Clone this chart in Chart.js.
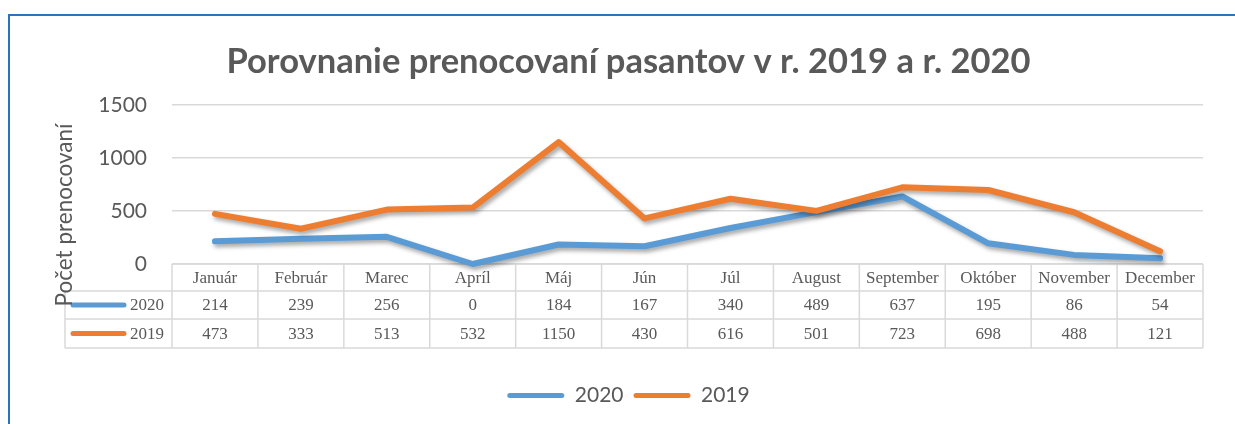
<!DOCTYPE html>
<html><head><meta charset="utf-8">
<script src="https://cdn.jsdelivr.net/npm/chart.js@4.4.0/dist/chart.umd.min.js"></script>
<style>
html,body{margin:0;padding:0;background:#fff;}
#wrap{position:relative;width:1235px;height:424px;overflow:hidden;}
#frame{position:absolute;left:8px;top:14px;right:-10px;bottom:-10px;border-left:2px solid #2a74bf;border-top:2px solid #2a74bf;}
canvas{position:absolute;left:0;top:0;}
</style></head><body>
<div id="wrap"><div id="frame"></div><canvas id="c" width="1235" height="424"></canvas></div>
<script>
const months = ['Január','Február','Marec','Apríl','Máj','Jún','Júl','August','September','Október','November','December'];
const values2020 = [214,239,256,0,184,167,340,489,637,195,86,54];
const values2019 = [473,333,513,532,1150,430,616,501,723,698,488,121];
const seriesNames = ['2020','2019'];
const seriesColors = ['#5B9BD5','#ED7D31'];
const yTickValues = [0,500,1000,1500];
const chartTitle = 'Porovnanie prenocovaní pasantov v r. 2019 a r. 2020';
const yTitle = 'Počet prenocovaní';

const TEXT = '#595959';
const GRID = '#d9d9d9';
Chart.defaults.font.family = 'Lato';
Chart.defaults.color = TEXT;

const shadowPlugin = {
  id:'shadow',
  beforeDatasetDraw(chart){
    const ctx = chart.ctx; ctx.save();
    ctx.shadowColor='rgba(0,0,0,0.35)'; ctx.shadowBlur=4; ctx.shadowOffsetX=2; ctx.shadowOffsetY=3;
  },
  afterDatasetDraw(chart){ chart.ctx.restore(); }
};

const tablePlugin = {
  id:'dataTable',
  beforeDatasetsDraw(chart){
    const {ctx, chartArea:a, scales:{x}} = chart;
    const rows = [a.bottom, a.bottom+27, a.bottom+55, a.bottom+84];
    const tableLeft = 65;
    const n = months.length;
    const cw = (a.right - a.left)/n;
    ctx.save();
    ctx.strokeStyle = GRID; ctx.lineWidth = 1.5;
    ctx.beginPath();
    ctx.moveTo(a.left, rows[0]); ctx.lineTo(a.right, rows[0]);
    for (let r=1;r<4;r++){ ctx.moveTo(tableLeft, rows[r]); ctx.lineTo(a.right, rows[r]); }
    for (let i=0;i<=n;i++){ const xx = a.left + i*cw; ctx.moveTo(xx, rows[0]); ctx.lineTo(xx, rows[3]); }
    ctx.moveTo(tableLeft, rows[1]); ctx.lineTo(tableLeft, rows[3]);
    ctx.stroke();
    ctx.fillStyle = TEXT;
    ctx.font = '17px "Liberation Serif"';
    ctx.textAlign='center'; ctx.textBaseline='middle';
    months.forEach((m,i)=>ctx.fillText(m, x.getPixelForValue(i), (rows[0]+rows[1])/2+1));
    [values2020, values2019].forEach((vals, r)=>{
      const cy = (rows[r+1]+rows[r+2])/2+1;
      vals.forEach((v,i)=>ctx.fillText(String(v), x.getPixelForValue(i), cy));
      ctx.save();
      ctx.strokeStyle = seriesColors[r]; ctx.lineWidth=5; ctx.lineCap='round';
      ctx.beginPath(); ctx.moveTo(73, cy-1); ctx.lineTo(124, cy-1); ctx.stroke();
      ctx.restore();
      ctx.textAlign='right';
      ctx.fillText(seriesNames[r], a.left-8, cy);
      ctx.textAlign='center';
    });
    // y axis title
    ctx.save();
    ctx.translate(65, 215); ctx.rotate(-Math.PI/2);
    ctx.font = '22.5px Lato'; ctx.fillStyle = TEXT;
    ctx.fillText(yTitle, 0, 0);
    ctx.restore();
    ctx.restore();
  }
};

new Chart(document.getElementById('c'), {
  type:'line',
  data:{
    labels: months,
    datasets:[
      {label:seriesNames[0], data:values2020, borderColor:seriesColors[0], backgroundColor:seriesColors[0], borderWidth:6, pointRadius:0, tension:0, borderCapStyle:'round', borderJoinStyle:'round', clip:false, order:2},
      {label:seriesNames[1], data:values2019, borderColor:seriesColors[1], backgroundColor:seriesColors[1], borderWidth:6, pointRadius:0, tension:0, borderCapStyle:'round', borderJoinStyle:'round', clip:false, order:1}
    ]
  },
  options:{
    responsive:false, animation:false,
    layout:{padding:{left:54,right:32,top:0,bottom:8}},
    plugins:{
      title:{display:true, text:chartTitle, color:TEXT, font:{family:'Lato', size:34.5, weight:'bold', lineHeight:1.2}, padding:{top:41,bottom:22.6}},
      legend:{position:'bottom',
        labels:{boxWidth:57, boxHeight:5, padding:10, color:TEXT, font:{size:21, family:'Lato'}, useBorderRadius:true, borderRadius:2.5,
          sort:(a,b)=>a.datasetIndex-b.datasetIndex,
          generateLabels(chart){
            const items = Chart.defaults.plugins.legend.labels.generateLabels(chart);
            items.forEach(it=>{ it.lineWidth=0; it.fillStyle=it.strokeStyle; });
            return items;
          }}},
      tooltip:{enabled:false}
    },
    scales:{
      x:{offset:true, ticks:{display:false}, grid:{display:false}, border:{display:false},
        afterFit(s){ s.height = 111; }},
      y:{min:0, max:1500, afterBuildTicks(s){ s.ticks = yTickValues.map(v=>({value:v})); },
        ticks:{padding:25, color:TEXT, font:{size:21, family:'Lato'}, callback:(v)=>String(v)},
        grid:{color:GRID, lineWidth:1.5, drawTicks:false}, border:{display:false},
        afterFit(s){ s.width = 118; }}
    }
  },
  plugins:[tablePlugin, shadowPlugin]
});
</script>
</body></html>
